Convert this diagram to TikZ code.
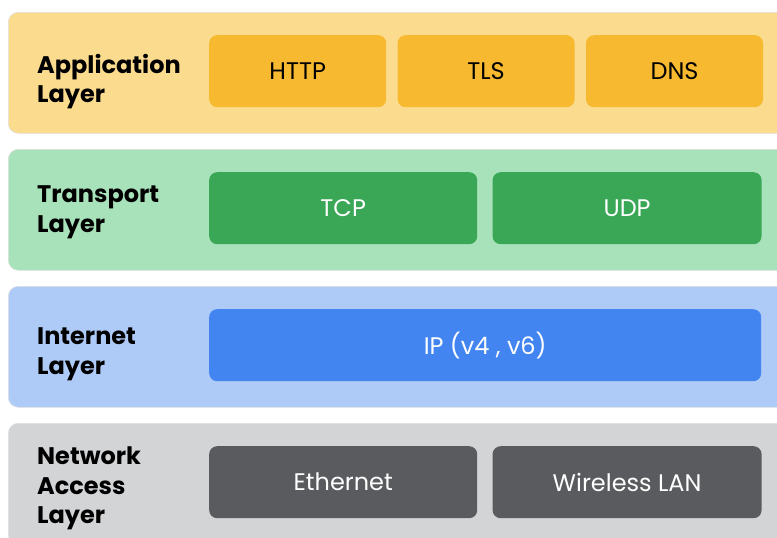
\documentclass[tikz,border=0pt]{standalone}
\usepackage{fontspec}
\setmainfont{Poppins}
\usetikzlibrary{positioning}
\definecolor{appband}{HTML}{FBDC8E}
\definecolor{appbox}{HTML}{F6B92F}
\definecolor{trnband}{HTML}{A8E2BA}
\definecolor{trnbox}{HTML}{3AA757}
\definecolor{netband}{HTML}{AECBF8}
\definecolor{netbox}{HTML}{4285F0}
\definecolor{accband}{HTML}{D3D4D6}
\definecolor{accbox}{HTML}{5A5B5E}

\begin{document}
\begin{tikzpicture}[x=1pt,y=-1pt,
	band/.style={draw=black!12, line width=0.6pt, rounded corners=10pt, anchor=north west,
		inner sep=0pt, minimum width=800pt, minimum height=121pt},
	proto/.style={rounded corners=8pt, anchor=north west, inner sep=0pt,
		minimum height=72pt, font=\fontsize{24}{28}\selectfont},
	layername/.style={anchor=west, align=left, inner sep=0pt,
		font=\bfseries\fontsize{24}{29.5}\selectfont}]
		\useasboundingbox (0,0) rectangle (777,538);
		\clip (0,0) rectangle (777,538);
		% layer bands
		\node[band, fill=appband] (app) at (8,12) {};
		\node[band, fill=trnband] (trn) at (8,149) {};
		\node[band, fill=netband] (inet) at (8,286) {};
		\node[band, fill=accband] (acc) at (8,423) {};
		% layer names
		\node[layername] (appname) at (37,81.5) {Application\\Layer};
		\node[layername] (trnname) at (37,212.5) {Transport\\Layer};
		\node[layername] (inetname) at (37,354.5) {Internet\\Layer};
		\node[layername] (accname) at (37,488.5) {Network\\Access\\Layer};
		% application protocols
		\node[proto, fill=appbox, minimum width=177pt] (http) at (209,35) {HTTP};
		\node[proto, fill=appbox, minimum width=177pt, right=11pt of http.north east, anchor=north west] (tls) {TLS};
		\node[proto, fill=appbox, minimum width=177pt, right=11pt of tls.north east, anchor=north west] (dns) {DNS};
		% transport protocols
		\node[proto, fill=trnbox, text=white, minimum width=268pt] (tcp) at (209,172) {TCP};
		\node[proto, fill=trnbox, text=white, minimum width=269pt, right=15pt of tcp.north east, anchor=north west] (udp) {UDP};
		% internet protocol
		\node[proto, fill=netbox, text=white, minimum width=552pt] (ip) at (209,309) {IP (v4 , v6)};
		% network access
		\node[proto, fill=accbox, text=white, minimum width=268pt] (eth) at (209,446) {Ethernet};
		\node[proto, fill=accbox, text=white, minimum width=269pt, right=15pt of eth.north east, anchor=north west] (wlan) {Wireless LAN};
	\end{tikzpicture}
\end{document}
